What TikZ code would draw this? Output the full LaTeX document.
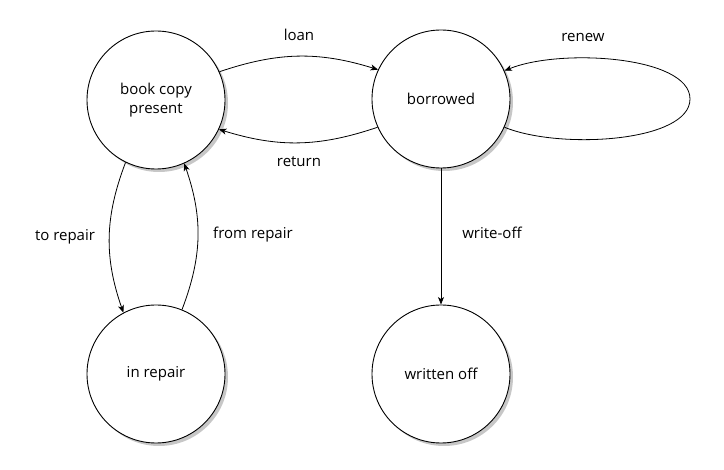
\documentclass[tikz,border=0pt]{standalone}
\usepackage{fontspec}
\setmainfont{Open Sans}
\usetikzlibrary{arrows.meta,shadows}
\begin{document}
\begin{tikzpicture}[x=1pt,y=-1pt,
  state/.style={circle,draw,line width=0.9pt,fill=white,minimum size=138pt,inner sep=0pt,
    align=center,font=\fontsize{15}{18.5}\selectfont,
    drop shadow={shadow xshift=3pt,shadow yshift=-3pt,fill=black!22,opacity=1}},
  lbl/.style={anchor=base,inner sep=0pt,font=\fontsize{15}{18}\selectfont},
  trans/.style={line width=0.8pt,-{Stealth[length=7.5pt,width=6pt,inset=2pt]}}]
\useasboundingbox (0,0) rectangle (724,470);
\node[state] (book) at (156,100) {book copy\\present};
\node[state] (bor) at (441,99) {borrowed};
\node[state] (rep) at (156,374) {in repair};
\node[state] (wo) at (441,374) {written off};
\draw[trans] (book.24) to[bend left=18] (bor.155);
\draw[trans] (bor.204) to[bend left=18] (book.335);
\draw[trans] (book.244) to[bend right=20] (rep.118);
\draw[trans] (rep.68) to[bend right=20] (book.294);
\draw[trans] (bor.south) -- (wo.north);
\coordinate (rr) at (690,99);
\draw[trans] (bor.-24) .. controls (560,150) and (690,142) .. (rr)
  .. controls (690,56) and (560,48) .. (bor.24);
\node[lbl] (lloan) at (299,41) {loan};
\node[lbl] (lret) at (299,167) {return};
\node[lbl] (lren) at (583,42) {renew};
\node[lbl] (lto) at (65,241) {to repair};
\node[lbl] (lfrom) at (253,239) {from repair};
\node[lbl] (lwo) at (492,239) {write-off};
\end{tikzpicture}
\end{document}
